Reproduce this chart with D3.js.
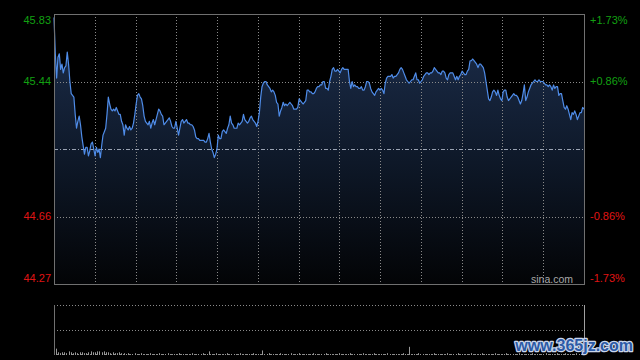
<!DOCTYPE html>
<html>
<head>
<meta charset="utf-8">
<script src="https://cdn.jsdelivr.net/npm/d3@7"></script>
<style>
  html, body { margin: 0; padding: 0; background: #000; }
  svg { display: block; }
  text { font-family: Arial, "Liberation Sans", sans-serif; }
</style>
</head>
<body>
<svg id="chart" width="640" height="360"></svg>
<script>
// ---------- DATA ----------
const prevClose = 45.05;
const priceTicks = [45.83, 45.44, 44.66, 44.27];
const priceLabels = ["45.83", "45.44", "44.66", "44.27"];
const pctLabels = ["+1.73%", "+0.86%", "-0.86%", "-1.73%"];

const prices = [
  45.81,45.60,45.46,45.58,45.60,45.51,45.54,45.49,45.52,45.53,45.61,45.54,
  45.44,45.37,45.36,45.35,45.25,45.17,45.21,45.24,45.19,45.12,45.07,45.02,45.06,45.06,
  45.01,45.04,45.08,45.09,45.05,45.01,45.06,45.03,45.05,45.00,
  45.07,45.13,45.15,45.17,45.25,45.35,45.31,45.28,45.27,
  45.28,45.27,45.29,45.27,45.25,45.25,45.21,45.19,45.13,45.19,
  45.17,45.16,45.18,45.16,45.17,45.20,45.25,45.31,45.36,45.37,
  45.35,45.34,45.30,45.24,45.21,45.20,45.19,45.21,45.17,45.20,
  45.22,45.19,45.22,45.25,45.28,45.27,45.25,45.24,45.19,45.20,
  45.21,45.22,45.23,45.21,45.18,45.17,45.17,45.21,45.17,45.13,
  45.17,45.21,45.22,45.20,45.21,45.22,45.20,
  // segment 2
  45.20,45.19,45.19,45.18,45.16,45.12,45.11,45.11,45.10,45.10,
  45.10,45.10,45.09,45.09,45.11,45.14,45.09,45.05,45.03,45.00,
  45.02,45.05,45.13,45.11,45.11,45.15,45.16,45.15,45.14,45.17,
  45.19,45.24,45.20,45.19,45.17,45.17,45.17,45.20,45.19,45.20,
  45.21,45.25,45.22,45.21,45.20,45.21,45.23,45.24,45.22,45.21,
  45.20,45.18,45.21,45.26,45.35,45.41,45.43,45.44,45.44,45.42,
  45.41,45.40,45.38,45.39,45.38,45.36,45.32,45.31,45.24,45.27,
  45.29,45.32,45.30,45.31,45.30,45.31,45.32,45.31,45.30,45.28,
  45.28,45.28,45.29,45.34,45.33,45.32,45.31,45.32,45.33,45.39,
  45.39,45.38,45.38,45.37,45.37,45.38,45.40,45.41,45.41,45.42,45.42,
  // segment 3
  45.44,45.44,45.40,45.40,45.39,45.44,45.47,45.51,45.52,45.50,
  45.50,45.51,45.50,45.49,45.51,45.52,45.51,45.51,45.51,45.51,
  45.44,45.40,45.44,45.41,45.42,45.41,45.41,45.40,45.40,45.41,
  45.39,45.39,45.41,45.44,45.44,45.43,45.40,45.38,45.37,45.36,
  45.38,45.39,45.40,45.39,45.40,45.39,45.37,45.43,45.46,45.47,
  45.47,45.47,45.48,45.46,45.47,45.47,45.48,45.49,45.51,45.52,
  45.51,45.49,45.47,45.45,45.44,45.43,45.44,45.45,45.45,45.47,
  45.49,45.45,45.45,45.43,45.44,45.45,45.47,45.48,45.49,45.49,
  45.48,45.49,45.49,45.50,45.52,45.51,45.50,45.49,45.49,45.48,
  45.50,45.50,45.49,45.46,45.45,45.48,45.49,45.49,45.49,45.47,45.45,
  // segment 4
  45.47,45.45,45.47,45.48,45.50,45.49,45.48,45.48,45.50,45.51,
  45.56,45.56,45.57,45.56,45.55,45.54,45.52,45.54,45.54,45.53,
  45.52,45.49,45.44,45.39,45.34,45.33,45.35,45.38,45.39,45.38,
  45.36,45.39,45.36,45.34,45.33,45.38,45.39,45.39,45.35,45.33,
  45.34,45.35,45.36,45.37,45.36,45.36,45.35,45.33,45.31,45.33,
  45.37,45.42,45.33,45.35,45.38,45.40,45.42,45.43,45.44,45.45,
  45.44,45.44,45.45,45.44,45.44,45.44,45.43,45.42,45.42,45.41,
  45.42,45.41,45.39,45.42,45.40,45.41,45.41,45.36,45.37,45.37,
  45.33,45.29,45.28,45.30,45.28,45.25,45.22,45.26,45.25,45.27,
  45.25,45.22,45.24,45.26,45.26,45.29,45.28
];

const volumes = [
  7,3,2,3,3,2,4,3,2,3,2,3,3,2,2,3,4,3,3,4,4,3,4,3,3,2,3,2,2,3,2,
  2,1,2,1,1,2,1,1,2,1, 1,1,2,1,1,1,2,1,1,1, 2,1,1,1,1,2,1,1,1,1,
  1,2,1,1,1,1,2,1,1,4, 1,1,2,1,1,1,1,2,1,1, 1,1,1,2,1,1,1,1,1,2,
  1,1,1,5,1,1,2,1,1,1, 1,2,1,1,1,1,2,1,1,1, 2,1,1,1,1,1,2,1,1,1,
  1,1,2,1,1,1,1,1,2,1, 1,1,1,2,1,1,1,1,1,2, 1,1,1,1,2,1,1,1,1,1,
  2,1,1,1,1,1,1,2,1,1, 9,1,1,1,2,1,1,1,1,1, 1,2,1,1,1,1,1,2,1,1,
  1,1,2,1,1,1,1,1,2,1, 1,1,1,2,1,1,1,1,1,2, 1,1,1,1,2,1,1,1,1,1,
  2,1,1,1,1,1,2,1,1,1, 1,1,2,1,1,1,1,2,1,1, 1,2,1,1,1,1,2,1,1,2
];
const gridColumns = 13;

// ---------- LAYOUT ----------
const L = 54, R = 584, T = 14, B = 284;
const VT = 305, VB = 355;

const svg = d3.select("#chart");
svg.append("rect").attr("width", 640).attr("height", 360).attr("fill", "#000");

const x = d3.scaleLinear().domain([0, prices.length - 1]).range([L, R]);
const y = d3.scaleLinear().domain([44.27, 45.83]).range([B, T]);
const gx = d3.scaleLinear().domain([0, gridColumns]).range([L, R]);
const xv = d3.scaleLinear().domain([0, volumes.length - 1]).range([L + 1.5, R - 1]);
const yv = d3.scaleLinear().domain([0, 55]).range([VB, VT]);

// gradient
const defs = svg.append("defs");
const grad = defs.append("linearGradient").attr("id", "fillGrad")
  .attr("gradientUnits", "userSpaceOnUse")
  .attr("x1", 0).attr("y1", T).attr("x2", 0).attr("y2", B);
grad.append("stop").attr("offset", "0%").attr("stop-color", "#1d2f4e");
grad.append("stop").attr("offset", "55%").attr("stop-color", "#0e1828");
grad.append("stop").attr("offset", "100%").attr("stop-color", "#030406");

// area
const area = d3.area().x((d, i) => x(i)).y0(B).y1(d => y(d));
svg.append("path").datum(prices).attr("d", area).attr("fill", "url(#fillGrad)");

// grid: vertical
const gridColor = "#8a8a8a";
svg.append("g").selectAll("line").data(d3.range(1, gridColumns)).join("line")
  .attr("x1", d => Math.round(gx(d)) + 0.5).attr("x2", d => Math.round(gx(d)) + 0.5)
  .attr("y1", T).attr("y2", B)
  .attr("stroke", gridColor).attr("stroke-width", 1).attr("stroke-dasharray", "1,2");

// grid: horizontal inner
svg.append("g").selectAll("line").data([45.44, 44.66]).join("line")
  .attr("x1", L).attr("x2", R)
  .attr("y1", d => Math.round(y(d)) + 0.5).attr("y2", d => Math.round(y(d)) + 0.5)
  .attr("stroke", gridColor).attr("stroke-width", 1).attr("stroke-dasharray", "1,2");

// prev close line
svg.append("line")
  .attr("x1", L).attr("x2", R)
  .attr("y1", Math.round(y(prevClose)) + 0.5).attr("y2", Math.round(y(prevClose)) + 0.5)
  .attr("stroke", "#9aa3b3").attr("stroke-width", 1).attr("stroke-dasharray", "4,2,1,2");

// price line
const line = d3.line().x((d, i) => x(i)).y(d => y(d));
svg.append("path").datum(prices).attr("d", line)
  .attr("fill", "none").attr("stroke", "#4f8ce8").attr("stroke-width", 1.2)
  .attr("stroke-linejoin", "round");

// frame
svg.append("rect").attr("x", L + 0.5).attr("y", T + 0.5)
  .attr("width", R - L).attr("height", B - T)
  .attr("fill", "none").attr("stroke", "#707070").attr("stroke-width", 1);

// labels
const labelY = v => Math.max(20, Math.min(278, y(v)));
svg.append("g").selectAll("text").data(priceTicks).join("text")
  .attr("x", 51).attr("y", d => labelY(d))
  .attr("dy", "0.36em").attr("text-anchor", "end")
  .attr("font-size", 11)
  .attr("fill", d => d > prevClose ? "#12a012" : "#e01414")
  .text((d, i) => priceLabels[i]);
svg.append("g").selectAll("text").data(priceTicks).join("text")
  .attr("x", 590).attr("y", d => labelY(d))
  .attr("dy", "0.36em").attr("text-anchor", "start")
  .attr("font-size", 11)
  .attr("fill", d => d > prevClose ? "#12a012" : "#e01414")
  .text((d, i) => pctLabels[i]);

// sina watermark
svg.append("text").attr("x", 573).attr("y", 279).attr("dy", "0.36em")
  .attr("text-anchor", "end").attr("font-size", 10.5).attr("fill", "#a8a8a8")
  .text("sina.com");

// ---------- VOLUME PANEL ----------
const vg = svg.append("g");
[VT, (VT + VB) / 2, VB - 1].forEach(yy => {
  vg.append("line").attr("x1", L).attr("x2", R)
    .attr("y1", Math.round(yy) + 0.5).attr("y2", Math.round(yy) + 0.5)
    .attr("stroke", gridColor).attr("stroke-dasharray", "1,2");
});
vg.append("line").attr("x1", L + 0.5).attr("x2", L + 0.5).attr("y1", VT).attr("y2", VB)
  .attr("stroke", "#707070");
vg.append("line").attr("x1", R + 0.5).attr("x2", R + 0.5).attr("y1", VT).attr("y2", VB)
  .attr("stroke", "#a0a0a0");
vg.selectAll("rect.v").data(volumes).join("rect").attr("class", "v")
  .attr("x", (d, i) => Math.round(xv(i)))
  .attr("width", 1)
  .attr("y", d => yv(d))
  .attr("height", d => VB - yv(d))
  .attr("fill", "#9a9a9a");

// site watermark overlay
svg.append("text").attr("x", 633).attr("y", 345).attr("dy", "0.36em")
  .attr("text-anchor", "end").attr("font-size", 16).attr("font-weight", "bold")
  .attr("fill", "#2c5aa6").attr("stroke", "#c9d5ea").attr("stroke-width", 2.5)
  .attr("paint-order", "stroke").attr("stroke-linejoin", "round")
  .text("www.365jz.com");
</script>
</body>
</html>
